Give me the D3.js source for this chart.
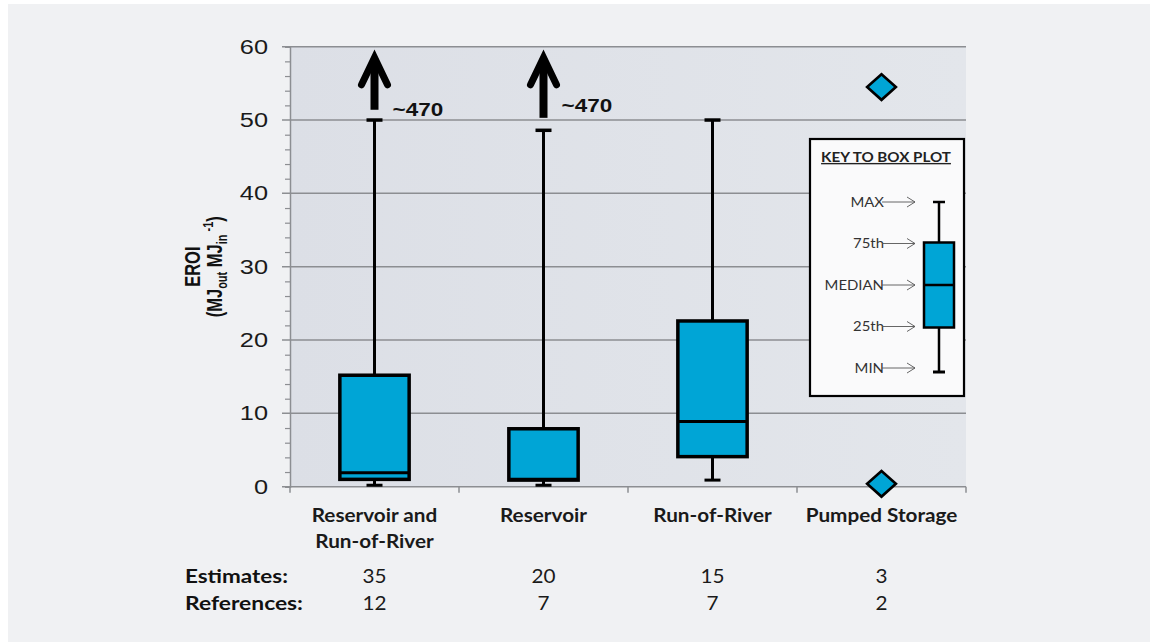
<!DOCTYPE html>
<html>
<head>
<meta charset="utf-8">
<script src="https://cdn.jsdelivr.net/npm/d3@7"></script>
<style>
  body { margin: 0; background: #ffffff; }
  svg { display: block; }
</style>
</head>
<body>
<svg id="chart" width="1150" height="642"></svg>
<script>
// --- data ---
var categories = ["Reservoir and Run-of-River", "Reservoir", "Run-of-River", "Pumped Storage"];
var catLines = [["Reservoir and", "Run-of-River"], ["Reservoir"], ["Run-of-River"], ["Pumped Storage"]];
var mins    = [0.2, 0.2, 0.9, null];
var q1s     = [1.0, 0.9, 4.1, null];
var medians = [1.9, 1.0, 8.9, null];
var q3s     = [15.2, 7.9, 22.6, null];
var maxs    = [50, 48.6, 50, null];
var pumpedPoints = [54.5, 0.4];
var arrowCats = ["Reservoir and Run-of-River", "Reservoir"];
var arrowBase = [51.4, 50.3];
var arrowLabelAt = [50.6, 51.1];
var arrowLabel = "~470";
var estimates = [35, 20, 15, 3];
var references = [12, 7, 7, 2];
var yMajor = [0, 10, 20, 30, 40, 50, 60];
var yMinor = d3.range(0, 60, 2).filter(v => v % 10 !== 0);
var keyLabels = ["MAX", "75th", "MEDIAN", "25th", "MIN"];

var svg = d3.select("svg#chart");
var W = +svg.attr("width"), H = +svg.attr("height");
var SX = 1.3; // the source image is stretched horizontally

var margin = { top: 46.7, left: 290, right: 184, bottom: 155.3 };
var plotW = W - margin.left - margin.right,
    plotH = H - margin.top - margin.bottom;

var boxFill = "#00a5d6";
var gridColor = "#8c8e92";

svg.append("rect")
    .attr("x", 8).attr("y", 4)
    .attr("width", W - 8).attr("height", H - 4)
    .attr("fill", "#f0f1f3");

var x = d3.scaleBand().domain(categories).range([margin.left, margin.left + plotW]).padding(0);
var y = d3.scaleLinear().domain([0, 60]).range([margin.top + plotH, margin.top]);
var bw = x.bandwidth() * 0.41;
var cx = c => x(c) + x.bandwidth() / 2;

// plot background
var defs = svg.append("defs");
var grad = defs.append("linearGradient").attr("id", "bg").attr("x1", 0).attr("x2", 1).attr("y1", 0).attr("y2", 0);
grad.append("stop").attr("offset", "0%").attr("stop-color", "#dcdfe6");
grad.append("stop").attr("offset", "100%").attr("stop-color", "#e3e6eb");
svg.append("rect")
    .attr("x", margin.left).attr("y", y(60))
    .attr("width", plotW).attr("height", y(0) - y(60))
    .attr("fill", "url(#bg)");

// gridlines
svg.append("g").selectAll("line").data(yMajor).enter().append("line")
    .attr("x1", margin.left - 8).attr("x2", margin.left + plotW)
    .attr("y1", d => y(d)).attr("y2", d => y(d))
    .attr("stroke", gridColor).attr("stroke-width", 1.5);

// y axis line and minor ticks
var yAxisMinor = d3.axisLeft(y).tickValues(yMinor).tickSize(5).tickFormat("");
var gm = svg.append("g").attr("transform", "translate(" + margin.left + ",0)").call(yAxisMinor);
gm.select(".domain").attr("stroke", gridColor).attr("stroke-width", 1.5);
gm.selectAll(".tick line").attr("stroke", gridColor).attr("stroke-width", 1.2);

// stretched text helper
function stext(g, tx, ty, str, opts) {
    opts = opts || {};
    var t = g.append("text")
        .attr("transform", "translate(" + tx + "," + ty + ") scale(" + (opts.sx || SX) + ",1)" + (opts.rot ? " rotate(" + opts.rot + ")" : ""))
        .attr("text-anchor", opts.anchor || "middle")
        .attr("font-family", opts.family || "'Liberation Sans', Arial, sans-serif")
        .attr("font-size", opts.size || 18)
        .attr("font-weight", opts.weight || "normal")
        .attr("fill", opts.fill || "#222");
    if (str !== null) t.text(str);
    return t;
}

var gy = svg.append("g");
yMajor.forEach(v => {
    stext(gy, margin.left - 22, y(v) + 7, String(v), { anchor: "end", size: 19.5, fill: "#1a1a1a" });
});

// y axis title
var gt = svg.append("g");
stext(gt, 200, (y(0) + y(60)) / 2, "EROI", { rot: -90, weight: "bold", size: 16.5, fill: "#111" });
var t2 = stext(gt, 222, (y(0) + y(60)) / 2, null, { rot: -90, weight: "bold", size: 16.5, fill: "#111" });
t2.append("tspan").text("(MJ");
t2.append("tspan").attr("dy", 4).attr("font-size", 11).text("out");
t2.append("tspan").attr("dy", -4).text(" MJ");
t2.append("tspan").attr("dy", 4).attr("font-size", 11).text("in");
t2.append("tspan").attr("dy", -11).attr("font-size", 11).text(" -1");
t2.append("tspan").attr("dy", 7).text(")");

// x axis ticks
var xEdges = categories.map(c => x(c)).concat([margin.left + plotW]);
svg.append("g").selectAll("line").data(xEdges).enter().append("line")
    .attr("x1", d => d).attr("x2", d => d)
    .attr("y1", y(0)).attr("y2", y(0) + 6)
    .attr("stroke", gridColor).attr("stroke-width", 1.5);

// box plots
var boxData = categories.map((c, i) => ({ cat: c, min: mins[i], q1: q1s[i], med: medians[i], q3: q3s[i], max: maxs[i] }))
    .filter(d => d.min !== null);

var boxes = svg.append("g").selectAll("g.box").data(boxData).enter().append("g").attr("class", "box");
boxes.append("line")
    .attr("x1", d => cx(d.cat)).attr("x2", d => cx(d.cat))
    .attr("y1", d => y(d.min)).attr("y2", d => y(d.max))
    .attr("stroke", "#000").attr("stroke-width", 3);
boxes.append("line")
    .attr("x1", d => cx(d.cat) - 8).attr("x2", d => cx(d.cat) + 8)
    .attr("y1", d => y(d.max)).attr("y2", d => y(d.max))
    .attr("stroke", "#000").attr("stroke-width", 3.5);
boxes.append("line")
    .attr("x1", d => cx(d.cat) - 8).attr("x2", d => cx(d.cat) + 8)
    .attr("y1", d => y(d.min)).attr("y2", d => y(d.min))
    .attr("stroke", "#000").attr("stroke-width", 3);
boxes.append("rect")
    .attr("x", d => cx(d.cat) - bw / 2).attr("width", bw)
    .attr("y", d => y(d.q3)).attr("height", d => y(d.q1) - y(d.q3))
    .attr("fill", boxFill).attr("stroke", "#000").attr("stroke-width", 3.5);
boxes.append("line")
    .attr("x1", d => cx(d.cat) - bw / 2).attr("x2", d => cx(d.cat) + bw / 2)
    .attr("y1", d => y(d.med)).attr("y2", d => y(d.med))
    .attr("stroke", "#000").attr("stroke-width", 3);

// pumped storage points
var diamond = d3.symbol().type(d3.symbolSquare).size(330);
svg.append("g").selectAll("path").data(pumpedPoints).enter().append("path")
    .attr("d", diamond)
    .attr("transform", d => "translate(" + cx("Pumped Storage") + "," + y(d) + ") scale(1.12,1) rotate(45)")
    .attr("fill", boxFill).attr("stroke", "#000").attr("stroke-width", 2.5);

// off-scale arrows
var ga = svg.append("g");
arrowCats.forEach((c, i) => {
    var ax = cx(c);
    ga.append("line")
        .attr("x1", ax).attr("x2", ax)
        .attr("y1", y(arrowBase[i])).attr("y2", y(58.3))
        .attr("stroke", "#000").attr("stroke-width", 8);
    ga.append("path")
        .attr("d", d3.line()([[ax - 13, y(54.8)], [ax, y(58.5)], [ax + 13, y(54.8)]]))
        .attr("fill", "none").attr("stroke", "#000").attr("stroke-width", 7)
        .attr("stroke-linecap", "round").attr("stroke-linejoin", "miter");
    stext(ga, ax + 18, y(arrowLabelAt[i]), arrowLabel, { anchor: "start", weight: "bold", size: 18, sx: 1.25, fill: "#111" });
});

// category labels
var fontCal = "Lato, 'Open Sans', sans-serif";
var CS = 1.12;
var gc = svg.append("g");
categories.forEach((c, i) => {
    catLines[i].forEach((ln, j) => {
        var t = gc.append("text")
            .attr("x", 0).attr("y", 522 + j * 26)
            .attr("text-anchor", "middle")
            .attr("font-family", fontCal).attr("font-weight", "bold")
            .attr("font-size", 18.5).attr("fill", "#1a1a1a")
            .text(ln);
        var half = t.node().getComputedTextLength() * CS / 2;
        var px = Math.min(cx(c), 960 - half);
        t.attr("transform", "translate(" + px + ",0) scale(" + CS + ",1)");
    });
});

// estimates / references table
var rows = [["Estimates:", estimates, 583, 103], ["References:", references, 610, 118]];
rows.forEach(r => {
    gc.append("text")
        .attr("x", 185).attr("y", r[2])
        .attr("font-family", fontCal).attr("font-weight", "bold")
        .attr("font-size", 18.5).attr("fill", "#111")
        .attr("textLength", r[3]).attr("lengthAdjust", "spacingAndGlyphs")
        .text(r[0]);
    categories.forEach((c, i) => {
        gc.append("text")
            .attr("x", 0).attr("y", r[2])
            .attr("text-anchor", "middle")
            .attr("transform", "translate(" + cx(c) + ",0) scale(" + CS + ",1)")
            .attr("font-family", fontCal).attr("font-size", 18.5).attr("fill", "#1a1a1a")
            .text(r[1][i]);
    });
});

// key to box plot
var key = svg.append("g").attr("transform", "translate(810,139)");
key.append("rect").attr("width", 154).attr("height", 257)
    .attr("fill", "#fafafb").attr("stroke", "#000").attr("stroke-width", 2.2);
key.append("text").attr("x", 0).attr("y", 23).attr("text-anchor", "middle")
    .attr("transform", "translate(76,0) scale(1.1,1)")
    .attr("font-family", fontCal).attr("font-weight", "bold").attr("font-size", 13.8)
    .attr("fill", "#222").attr("text-decoration", "underline")
    .text("KEY TO BOX PLOT");
var ky = d3.scalePoint().domain(keyLabels).range([63, 229]);
var kx = 129;
keyLabels.forEach(k => {
    key.append("text").attr("x", 0).attr("y", ky(k) + 5).attr("text-anchor", "end")
        .attr("transform", "translate(74,0) scale(1.08,1)")
        .attr("font-family", fontCal).attr("font-size", 13.8).attr("fill", "#333").text(k);
    key.append("line").attr("x1", 72).attr("x2", 105).attr("y1", ky(k)).attr("y2", ky(k))
        .attr("stroke", "#555").attr("stroke-width", 0.9);
    key.append("path").attr("d", d3.line()([[97, ky(k) - 5], [105, ky(k)], [97, ky(k) + 5]]))
        .attr("fill", "none").attr("stroke", "#555").attr("stroke-width", 0.9);
});
key.append("line").attr("x1", kx).attr("x2", kx).attr("y1", ky("MAX")).attr("y2", ky("MIN") + 4)
    .attr("stroke", "#000").attr("stroke-width", 2.5);
key.append("line").attr("x1", kx - 6).attr("x2", kx + 6).attr("y1", ky("MAX")).attr("y2", ky("MAX"))
    .attr("stroke", "#000").attr("stroke-width", 2.5);
key.append("line").attr("x1", kx - 6).attr("x2", kx + 6).attr("y1", ky("MIN") + 4).attr("y2", ky("MIN") + 4)
    .attr("stroke", "#000").attr("stroke-width", 3);
key.append("rect").attr("x", kx - 15).attr("width", 30)
    .attr("y", ky("75th") - 1).attr("height", ky("25th") - ky("75th") + 2)
    .attr("fill", boxFill).attr("stroke", "#000").attr("stroke-width", 2.5);
key.append("line").attr("x1", kx - 15).attr("x2", kx + 15).attr("y1", ky("MEDIAN")).attr("y2", ky("MEDIAN"))
    .attr("stroke", "#000").attr("stroke-width", 2.5);
</script>
</body>
</html>
